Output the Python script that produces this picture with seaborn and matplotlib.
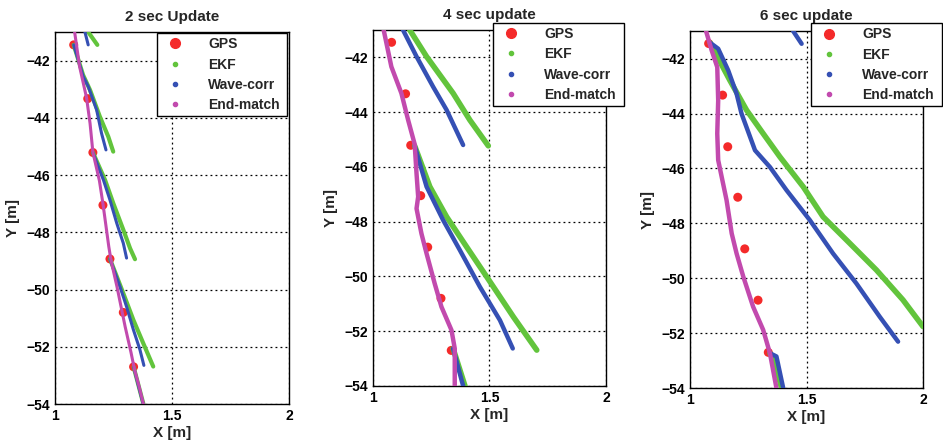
import numpy as np
import pandas as pd
import matplotlib
matplotlib.use('Agg')
import matplotlib.pyplot as plt
import seaborn as sns
from matplotlib.lines import Line2D

# GPS fixes (same for all three runs)
gps_x = [1.08, 1.14, 1.162, 1.205, 1.235, 1.292, 1.336]
gps_y = [-41.45, -43.33, -45.21, -47.05, -48.93, -50.80, -52.70]

# ---- 2 sec update ----
p1_ekf = [
    [(1.142, -41.0), (1.181, -41.45)],
    [(1.08, -41.45), (1.12, -42.5), (1.150, -43.03), (1.192, -43.96), (1.228, -44.66), (1.249, -45.18)],
    [(1.162, -45.21), (1.214, -46.17), (1.249, -46.98), (1.292, -47.91), (1.321, -48.56), (1.342, -48.94)],
    [(1.235, -48.93), (1.292, -50.13), (1.335, -51.06), (1.377, -51.87), (1.420, -52.69)],
    [(1.336, -52.70), (1.378, -54.0)],
]
p1_wave = [
    [(1.128, -41.0), (1.142, -41.45)],
    [(1.08, -41.45), (1.121, -42.56), (1.142, -42.9), (1.178, -43.72), (1.199, -44.54), (1.218, -45.12)],
    [(1.162, -45.21), (1.207, -46.17), (1.235, -46.87), (1.264, -47.68), (1.292, -48.38), (1.306, -48.9)],
    [(1.235, -48.93), (1.278, -49.9), (1.306, -50.6), (1.335, -51.4), (1.363, -52.1), (1.380, -52.65)],
    [(1.336, -52.70), (1.377, -54.0)],
]
p1_end = [
    [(1.084, -41.0), (1.105, -42.2), (1.135, -43.3), (1.15, -44.2), (1.162, -45.2), (1.19, -46.2),
     (1.205, -47.0), (1.215, -47.6), (1.23, -48.5), (1.24, -49.0), (1.265, -49.9), (1.285, -50.7),
     (1.30, -51.3), (1.325, -52.2), (1.34, -52.8), (1.36, -53.4), (1.378, -54.0)],
]

# ---- 4 sec update ----
p2_ekf = [
    [(1.158, -41.0), (1.23, -41.97), (1.344, -43.31), (1.416, -44.29), (1.495, -45.23)],
    [(1.179, -45.23), (1.244, -46.72), (1.316, -47.82), (1.402, -48.92), (1.488, -50.01), (1.603, -51.48), (1.703, -52.69)],
    [(1.344, -52.63), (1.395, -54.0)],
]
p2_wave = [
    [(1.129, -41.0), (1.187, -41.97), (1.258, -43.07), (1.316, -43.92), (1.387, -45.2)],
    [(1.179, -45.23), (1.230, -46.72), (1.301, -47.94), (1.373, -49.04), (1.459, -50.38), (1.545, -51.6), (1.60, -52.63)],
    [(1.344, -52.63), (1.387, -54.0)],
]
p2_end = [
    [(1.046, -41.0), (1.079, -42.34), (1.122, -43.31), (1.151, -44.29), (1.179, -45.17), (1.187, -46.24),
     (1.194, -47.09), (1.187, -47.52), (1.208, -48.43), (1.230, -49.16), (1.265, -50.26), (1.294, -51.11),
     (1.337, -51.96), (1.351, -52.63), (1.351, -54.0)],
]

# ---- 6 sec update ----
p3_ekf = [
    [(1.086, -41.42), (1.171, -42.79), (1.243, -43.88), (1.314, -44.73), (1.386, -45.58), (1.486, -46.67),
     (1.571, -47.76), (1.686, -48.73), (1.80, -49.7), (1.914, -50.79), (2.0, -51.76)],
    [(1.343, -52.73), (1.365, -53.1), (1.393, -54.0)],
]
p3_wave = [
    [(1.443, -41.0), (1.479, -41.46)],
    [(1.086, -41.42), (1.121, -41.64), (1.164, -42.43), (1.20, -43.28), (1.221, -44.0), (1.279, -45.34),
     (1.343, -45.95), (1.414, -46.79), (1.514, -47.88), (1.614, -49.1), (1.714, -50.19), (1.814, -51.4), (1.893, -52.31)],
    [(1.343, -52.73), (1.371, -52.85), (1.40, -54.0)],
]
p3_end = [
    [(1.069, -41.0), (1.093, -41.70), (1.117, -42.31), (1.121, -43.52), (1.117, -44.73), (1.121, -45.7),
     (1.157, -47.16), (1.179, -48.37), (1.20, -49.1), (1.229, -49.95), (1.271, -51.04), (1.314, -51.88),
     (1.343, -52.73), (1.371, -54.0)],
]

titles = ['2 sec Update', '4 sec update', '6 sec update']
labels = ['GPS', 'EKF', 'Wave-corr', 'End-match']
c_gps, c_ekf, c_wave, c_end = '#f42a2a', '#62c43c', '#3550b4', '#c24aae'


def seg_frame(segs):
    rows = []
    for i, s in enumerate(segs):
        for x, y in s:
            rows.append((i, x, y))
    return pd.DataFrame(rows, columns=['seg', 'x', 'y'])


sns.set_style('white')
plt.rcParams['font.family'] = ['Liberation Sans', 'DejaVu Sans']
plt.rcParams['font.weight'] = 'bold'

fig = plt.figure(figsize=(9.43, 4.45), dpi=100)
axes_pos = [[0.0583, 0.0921, 0.2481, 0.836],
            [0.3955, 0.1326, 0.2471, 0.800],
            [0.7317, 0.1280, 0.2471, 0.802]]
leg_box = [(0.436, 0.769, 0.555, 0.228),
           (0.515, 0.775, 0.562, 0.245),
           (0.519, 0.784, 0.563, 0.238)]
panels = [(p1_ekf, p1_wave, p1_end, 2.2),
          (p2_ekf, p2_wave, p2_end, 3.2),
          (p3_ekf, p3_wave, p3_end, 3.2)]

for k, (ekf, wave, end, lw) in enumerate(panels):
    ax = fig.add_axes(axes_pos[k])
    sns.scatterplot(x=gps_x, y=gps_y, color=c_gps, s=42, edgecolor='none', ax=ax, zorder=3)
    sns.lineplot(data=seg_frame(ekf), x='x', y='y', units='seg', estimator=None, sort=False,
                 color=c_ekf, lw=lw + 0.8, ax=ax, zorder=4)
    sns.lineplot(data=seg_frame(wave), x='x', y='y', units='seg', estimator=None, sort=False,
                 color=c_wave, lw=lw, ax=ax, zorder=5)
    sns.lineplot(data=seg_frame(end), x='x', y='y', units='seg', estimator=None, sort=False,
                 color=c_end, lw=lw, ax=ax, zorder=6)

    ax.set_xlim(1, 2)
    ax.set_ylim(-54, -41)
    ax.set_xticks([1, 1.5, 2])
    ax.set_xticklabels(['1', '1.5', '2'])
    ax.set_yticks(range(-54, -41, 2))
    ax.grid(True, color='black', linestyle=(0, (1.5, 2.5)), linewidth=0.9)
    ax.tick_params(direction='in', length=3, labelsize=10, colors='black')
    for sp in ax.spines.values():
        sp.set_color('black')
        sp.set_linewidth(1.0)
    ax.set_xlabel('X [m]', fontsize=11, fontweight='bold', labelpad=2)
    ax.set_ylabel('Y [m]', fontsize=11, fontweight='bold', labelpad=5)
    ax.set_title(titles[k], fontsize=11, fontweight='bold', pad=8)

    handles = [Line2D([], [], ls='none', marker='o', ms=7, color=c_gps),
               Line2D([], [], ls='none', marker='o', ms=3, color=c_ekf),
               Line2D([], [], ls='none', marker='o', ms=3, color=c_wave),
               Line2D([], [], ls='none', marker='o', ms=3, color=c_end)]
    leg = ax.legend(handles, labels, loc='upper left', bbox_to_anchor=leg_box[k], mode='expand',
                    fancybox=False, framealpha=1, edgecolor='black', borderaxespad=0,
                    labelspacing=0.45, handletextpad=1.4, borderpad=0.3,
                    prop={'size': 10, 'weight': 'bold'})
    leg.get_frame().set_linewidth(1.0)
    leg.set_zorder(10)
    leg.set_clip_on(False)

fig.savefig('out.png', dpi=100)
